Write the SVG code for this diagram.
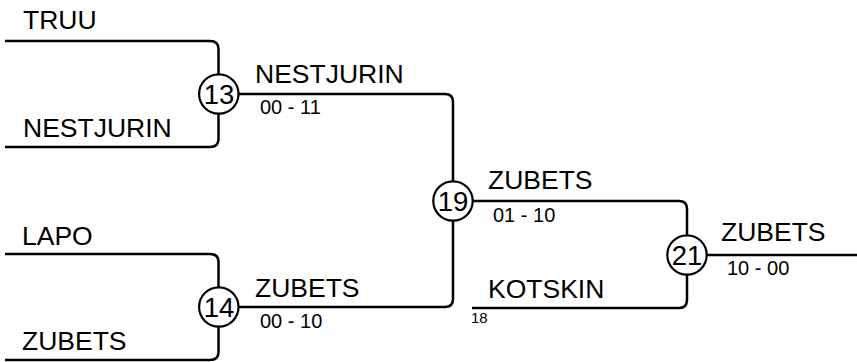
<svg xmlns="http://www.w3.org/2000/svg" width="857" height="362" viewBox="0 0 857 362">
<style>
.ln{fill:none;stroke:#000;stroke-width:2.5}
.cir{fill:#fff;stroke:#000;stroke-width:2.2}
.nm{font-family:"Liberation Sans",Arial,sans-serif;font-size:26.5px;fill:#000}
.sc{font-family:"Liberation Sans",Arial,sans-serif;font-size:20px;fill:#000}
.sm{font-family:"Liberation Sans",Arial,sans-serif;font-size:15px;fill:#000}
.num{font-family:"Liberation Sans",Arial,sans-serif;font-size:27.5px;fill:#000;text-anchor:middle}
</style>
<rect width="857" height="362" fill="#fff"/>
<g id="connectors">
<path class="ln" d="M5,41 H210 Q218.5,41 218.5,49 V94"/>
<path class="ln" d="M5,147 H210 Q218.5,147 218.5,139 V94"/>
<path class="ln" d="M5,254 H210 Q218.5,254 218.5,262 V307"/>
<path class="ln" d="M5,360 H210 Q218.5,360 218.5,352 V307"/>
<path class="ln" d="M218,94 H445 Q453,94 453,102 V201"/>
<path class="ln" d="M218,307 H445 Q453,307 453,299 V201"/>
<path class="ln" d="M453,201 H679 Q687,201 687,209 V255"/>
<path class="ln" d="M472,308 H679 Q687,308 687,300 V255"/>
<path class="ln" d="M687,255 H857"/>
</g>
<g id="labels">
<text class="nm" x="23" y="29">TRUU</text>
<text class="nm" x="23" y="137">NESTJURIN</text>
<text class="nm" x="22" y="245">LAPO</text>
<text class="nm" x="22" y="350">ZUBETS</text>
<text class="nm" x="255" y="83">NESTJURIN</text>
<text class="sc" x="260" y="114">00 - 11</text>
<text class="nm" x="255" y="297">ZUBETS</text>
<text class="sc" x="260" y="328">00 - 10</text>
<text class="nm" x="488" y="189">ZUBETS</text>
<text class="sc" x="493" y="222">01 - 10</text>
<text class="nm" x="488" y="298">KOTSKIN</text>
<text class="sm" x="471" y="323">18</text>
<text class="nm" x="721" y="241">ZUBETS</text>
<text class="sc" x="727" y="275">10 - 00</text>
</g>
<g id="node13"><circle class="cir" cx="218.8" cy="94" r="19.7"/><text class="num" x="219" y="104">13</text></g>
<g id="node14"><circle class="cir" cx="218.8" cy="307" r="19.7"/><text class="num" x="219" y="317">14</text></g>
<g id="node19"><circle class="cir" cx="453" cy="201" r="19.7"/><text class="num" x="453" y="211">19</text></g>
<g id="node21"><circle class="cir" cx="687" cy="255" r="19.7"/><text class="num" x="687" y="265">21</text></g>
</svg>
